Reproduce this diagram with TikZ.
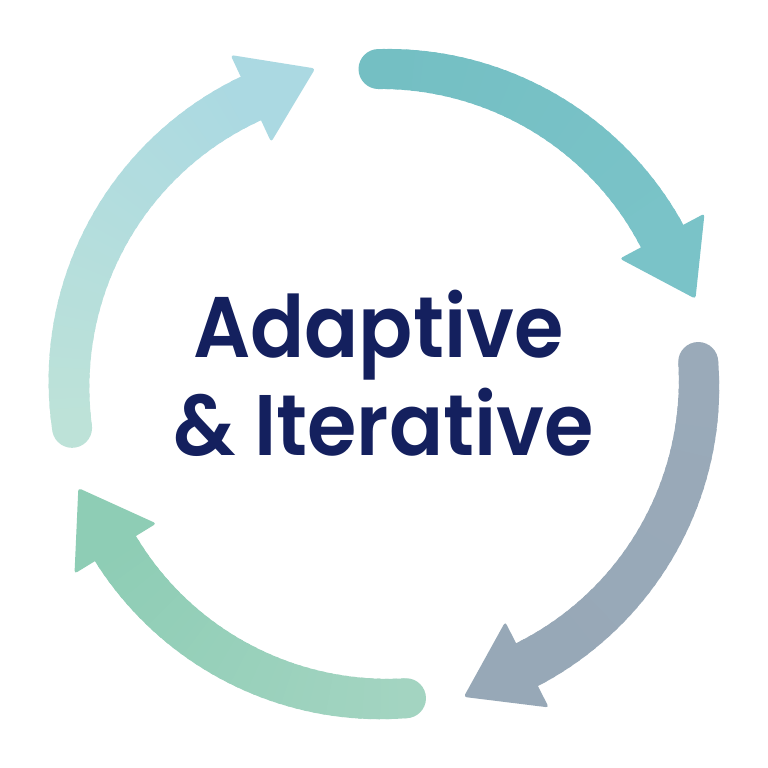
\documentclass[tikz,border=0pt]{standalone}
\usepackage{fontspec}
\newfontfamily\lblfont{Poppins SemiBold}
\definecolor{txt}{HTML}{14205E}
\definecolor{topA}{HTML}{74BFC3}
\definecolor{topB}{HTML}{7AC3C8}
\definecolor{rgtA}{HTML}{9AAAB9}
\definecolor{rgtB}{HTML}{97A8B7}
\definecolor{botA}{HTML}{A3D4C1}
\definecolor{botB}{HTML}{8ECDB5}
\definecolor{lftA}{HTML}{BDE2D8}
\definecolor{lftB}{HTML}{ABD9E2}
\newcommand\cyclearrow[4]{% tail angle, head-base angle, colA, colB
  \fill[#3] (#1:315) circle[radius=20pt];
  \foreach \i in {0,...,39}{
    \pgfmathsetmacro\sa{#1+(#2-#1)*\i/40}
    \pgfmathsetmacro\sb{#1+(#2-#1)*(\i+1.4)/40}
    \pgfmathsetmacro\pc{100*\i/39}
    \pgfmathsetmacro\lw{40+8*\i/39}
    \draw[line width=\lw pt, color=#4!\pc!#3] (\sa:315) arc[start angle=\sa, end angle=\sb, radius=315pt];
  }
  \fill[#4, rounded corners=3pt] (#2:267) -- (#2:363) -- ([shift={(#2-90:71)}]#2:315) -- cycle;
}
\begin{document}
\begin{tikzpicture}[x=1pt,y=1pt]
\useasboundingbox (0,0) rectangle (768,768);
\fill[white] (0,0) rectangle (768,768);
\begin{scope}[shift={(384,384)}]
  \cyclearrow{91}{28}{topA}{topB}
  \cyclearrow{4}{-63}{rgtA}{rgtB}
  \cyclearrow{-86}{-148.5}{botA}{botB}
  \cyclearrow{188}{115}{lftA}{lftB}
\end{scope}
\tikzset{lbl/.style={anchor=base, text=txt, font=\fontsize{86}{90}\lblfont, inner sep=0pt, xscale=0.93}}
\node[lbl] (l1) at (378.5,410) {Adaptive};
\node[lbl] (l2) at (383.5,312) {\& Iterative};
\end{tikzpicture}
\end{document}
